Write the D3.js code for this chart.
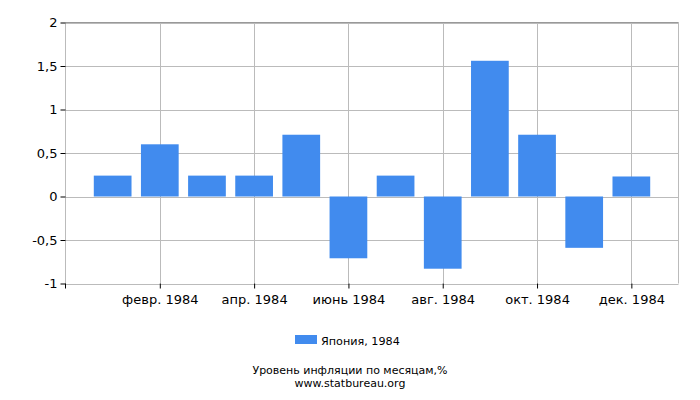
<!DOCTYPE html>
<html><head><meta charset="utf-8">
<script src="https://cdn.jsdelivr.net/npm/d3@7"></script>
<style>body{margin:0;background:#fff}svg{display:block;font-family:"DejaVu Sans",sans-serif}</style>
</head><body><svg id="c" width="700" height="400"></svg>
<script>
const months = ["янв. 1984","февр. 1984","март 1984","апр. 1984","май 1984","июнь 1984","июль 1984","авг. 1984","сент. 1984","окт. 1984","нояб. 1984","дек. 1984"];
const values = [0.24, 0.6, 0.24, 0.24, 0.71, -0.71, 0.24, -0.83, 1.56, 0.71, -0.59, 0.23];
const yTicks = [-1, -0.5, 0, 0.5, 1, 1.5, 2];
const labeledMonths = ["февр. 1984","апр. 1984","июнь 1984","авг. 1984","окт. 1984","дек. 1984"];
const seriesName = "Япония, 1984";
const title = "Уровень инфляции по месяцам,%";
const source = "www.statbureau.org";

const svg = d3.select("#c");
const L = 65.5, R = 678.5, T = 22.5, B = 283.5;
const x = d3.scalePoint().domain(months).range([L, R]).padding(1);
const y = d3.scaleLinear().domain([-1, 2]).range([B, T]);
const step = x.step();
const bw = step * 0.8;
const fmt = v => String(v).replace(".", ",");

// horizontal grid
svg.append("g").selectAll("line").data(yTicks).join("line")
  .attr("x1", L).attr("x2", R).attr("y1", d => Math.round(y(d)) + 0.5).attr("y2", d => Math.round(y(d)) + 0.5)
  .attr("stroke", "#bbb").attr("stroke-width", 1);
// vertical grid
svg.append("g").selectAll("line").data(labeledMonths).join("line")
  .attr("x1", d => Math.round(x(d)) + 0.5).attr("x2", d => Math.round(x(d)) + 0.5)
  .attr("y1", T).attr("y2", B).attr("stroke", "#bbb");
// frame
svg.append("line").attr("x1", L).attr("x2", L).attr("y1", T).attr("y2", B).attr("stroke", "#bbb");
svg.append("line").attr("x1", R).attr("x2", R).attr("y1", T).attr("y2", B).attr("stroke", "#bbb");
svg.append("line").attr("x1", L).attr("x2", R).attr("y1", T).attr("y2", T).attr("stroke", "#999");

// bars
svg.append("g").selectAll("rect").data(values).join("rect")
  .attr("x", (d, i) => x(months[i]) - bw / 2)
  .attr("width", bw)
  .attr("y", d => y(Math.max(0, d)))
  .attr("height", d => Math.abs(y(d) - y(0)))
  .attr("fill", "#418bee");

// y axis
const ya = svg.append("g").attr("transform", `translate(${L},0)`)
  .call(d3.axisLeft(y).tickValues(yTicks).tickSize(5).tickPadding(3).tickFormat(fmt));
ya.select(".domain").remove();
ya.selectAll(".tick line").attr("stroke", "#000");
ya.selectAll("text").attr("font-size", 13).attr("fill", "#000").attr("font-family", "DejaVu Sans");

// x axis
const xa = svg.append("g").attr("transform", `translate(0,${B})`)
  .call(d3.axisBottom(x).tickValues(labeledMonths).tickSize(5).tickPadding(6));
xa.select(".domain").remove();
xa.selectAll(".tick line").attr("stroke", "#000");
xa.selectAll("text").attr("font-size", 13).attr("fill", "#000").attr("font-family", "DejaVu Sans");
svg.append("line").attr("x1", L).attr("x2", L).attr("y1", B).attr("y2", B + 5).attr("stroke", "#000");

// legend
svg.append("rect").attr("x", 295).attr("y", 335).attr("width", 22).attr("height", 9).attr("fill", "#418bee");
svg.append("text").attr("x", 321).attr("y", 345).attr("font-size", 11.2).attr("fill", "#000").text(seriesName);

svg.append("text").attr("x", 350).attr("y", 374).attr("text-anchor", "middle").attr("font-size", 11).attr("fill", "#000").text(title);
svg.append("text").attr("x", 350).attr("y", 386.5).attr("text-anchor", "middle").attr("font-size", 11).attr("fill", "#000").text(source);
</script></body></html>
